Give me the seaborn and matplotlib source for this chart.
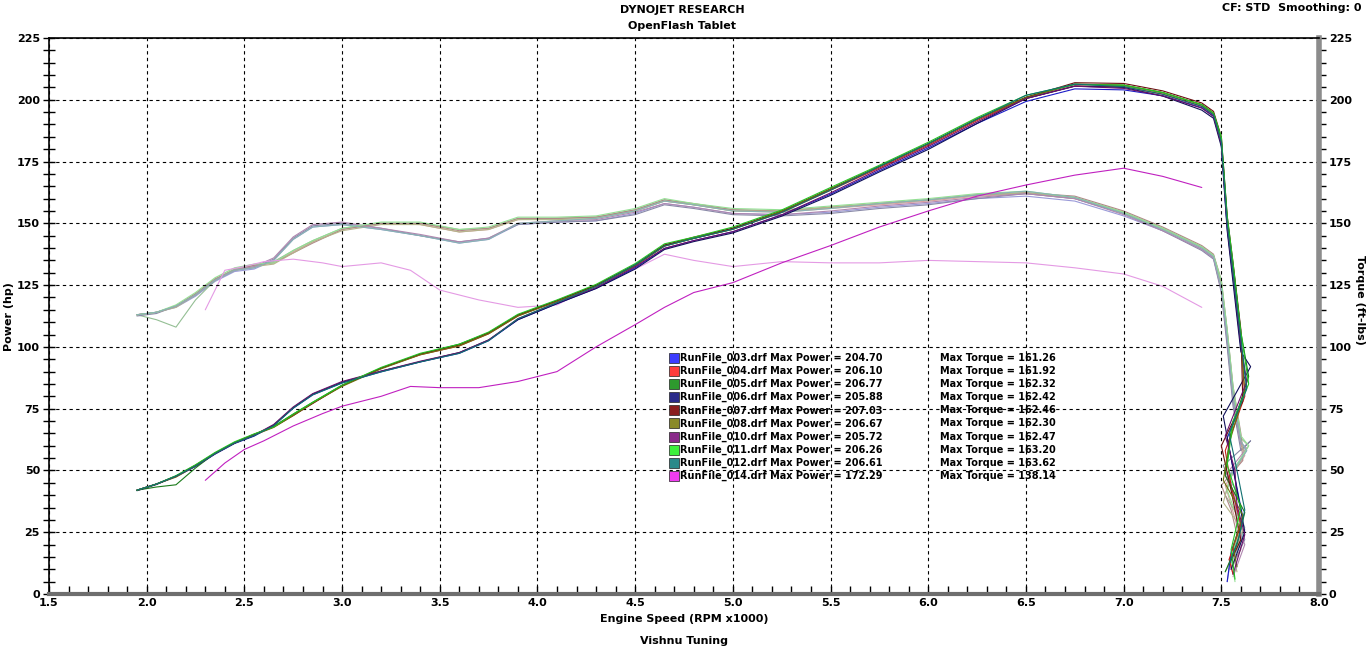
import numpy as np
import matplotlib
matplotlib.use("Agg")
import matplotlib.pyplot as plt
from matplotlib.patches import Rectangle
from matplotlib.ticker import MultipleLocator, FormatStrFormatter
import seaborn as sns

# shared rpm grid (x1000) for the pull of the nine similar runs
rpm_pull = [1.95, 2.05, 2.15, 2.25, 2.35, 2.45, 2.55, 2.65, 2.75, 2.85, 3.0, 3.2, 3.4, 3.6,
            3.75, 3.9, 4.1, 4.3, 4.5, 4.65, 4.8, 5.0, 5.25, 5.5, 5.75, 6.0, 6.25, 6.5, 6.75,
            7.0, 7.2, 7.4, 7.46, 7.5, 7.53, 7.56, 7.6]

hp_003 = [42.0, 44.5, 47.5, 51.6, 56.6, 60.9, 63.9, 68.2, 75.2, 80.6, 85.4, 89.9, 93.9, 97.4, 102.5, 111.0, 117.5, 123.7, 132.0, 139.8, 143.0, 146.6, 153.4, 161.8, 171.3, 180.5, 190.4, 199.3, 204.4, 204.0, 201.6, 196.8, 193.4, 182, 148, 128, 100]
tq_003 = [113, 114, 116, 120.5, 126.5, 130.5, 131.5, 135, 143.5, 148.5, 149.5, 147.5, 145, 142, 143.5, 149.5, 150.5, 151, 154, 158, 156.5, 154, 153.5, 154.5, 156.5, 158, 160, 161, 159, 153, 147, 139.5, 136, 123, 102, 78, 60]
hp_004 = [42.0, 44.5, 47.7, 52.1, 57.0, 61.3, 64.6, 67.6, 72.5, 77.3, 84.3, 91.4, 96.8, 100.4, 105.3, 112.5, 118.7, 124.9, 132.8, 140.8, 143.9, 147.6, 154.4, 163.4, 172.4, 181.6, 191.6, 200.5, 205.6, 205.3, 202.3, 197.4, 194.0, 183, 151, 131, 104]
tq_004 = [113, 114, 116.5, 121.5, 127.5, 131.5, 133, 134, 138.5, 142.5, 147.5, 150, 149.5, 146.5, 147.5, 151.5, 152, 152.5, 155, 159, 157.5, 155, 154.5, 156, 157.5, 159, 161, 162, 160, 154, 147.5, 140, 136.5, 125, 105, 81, 64]
hp_005 = [42.0, 43.3, 44.2, 51.0, 57.0, 61.3, 64.6, 67.9, 72.8, 77.6, 84.5, 91.4, 97.1, 101.1, 105.7, 112.9, 118.7, 124.9, 133.2, 141.2, 143.9, 148.0, 154.9, 163.9, 173.0, 182.2, 192.2, 201.0, 206.3, 205.9, 202.9, 198.0, 194.6, 184, 152, 133, 106]
tq_005 = [113, 111, 108, 119, 127, 131.5, 133, 134.5, 139, 143, 148, 150, 150, 147.5, 148, 152, 152, 152.5, 155.5, 159.5, 157.5, 155.5, 155, 156.5, 158, 159.5, 161.5, 162.3, 160.5, 154.5, 148, 140.5, 137, 126, 106, 83, 63]
hp_006 = [41.8, 44.3, 47.7, 51.8, 56.8, 61.1, 64.1, 68.4, 75.4, 80.9, 85.7, 90.2, 94.0, 97.7, 102.8, 111.0, 117.5, 123.6, 131.5, 139.4, 142.6, 146.1, 152.9, 161.3, 170.8, 179.9, 190.4, 200.5, 205.5, 205.0, 201.5, 195.8, 192.5, 181, 147, 126, 98]
tq_006 = [112.5, 113.5, 116.5, 121, 127, 131, 132, 135.5, 144, 149, 150, 148, 145, 142.5, 144, 149.5, 150.5, 151, 153.5, 157.5, 156, 153.5, 153, 154, 156, 157.5, 160, 162, 160, 154, 147, 139, 135.5, 122, 100, 76, 58]
hp_007 = [42.0, 44.5, 47.7, 52.1, 57.0, 61.1, 64.6, 67.6, 72.2, 77.1, 84.3, 91.4, 97.1, 100.8, 105.7, 112.9, 118.7, 124.9, 133.2, 141.2, 144.4, 148.0, 154.9, 163.9, 173.0, 182.2, 192.2, 201.0, 206.9, 206.6, 203.6, 198.7, 195.3, 185, 153, 134, 107]
tq_007 = [113, 114, 116.5, 121.5, 127.5, 131, 133, 134, 138, 142, 147.5, 150, 150, 147, 148, 152, 152, 152.5, 155.5, 159.5, 158, 155.5, 155, 156.5, 158, 159.5, 161.5, 162.4, 161, 155, 148.5, 141, 137.5, 127, 107, 84, 65]
hp_008 = [42.0, 44.5, 47.3, 51.8, 56.8, 61.1, 64.3, 67.4, 72.2, 77.3, 84.0, 91.1, 96.8, 100.4, 105.3, 112.5, 118.3, 124.5, 132.8, 140.8, 143.9, 147.6, 154.9, 163.9, 173.0, 182.2, 192.2, 200.9, 206.3, 205.9, 202.9, 198.0, 194.6, 184, 151, 131, 104]
tq_008 = [113, 114, 116, 121, 127, 131, 132.5, 133.5, 138, 142.5, 147, 149.5, 149.5, 146.5, 147.5, 151.5, 151.5, 152, 155, 159, 157.5, 155, 155, 156.5, 158, 159.5, 161.5, 162.3, 160.5, 154.5, 148, 140.5, 137, 126, 105, 80, 61]
hp_010 = [42.0, 44.5, 47.7, 51.8, 56.8, 61.1, 64.3, 68.6, 75.7, 81.1, 86.0, 90.2, 94.2, 97.7, 102.8, 111.4, 117.9, 124.0, 132.4, 139.9, 143.0, 146.6, 153.4, 162.3, 171.9, 181.1, 191.0, 200.5, 205.5, 204.6, 201.6, 196.6, 193.2, 182, 149, 129, 101]
tq_010 = [113, 114, 116.5, 121, 127, 131, 132.5, 136, 144.5, 149.5, 150.5, 148, 145.5, 142.5, 144, 150, 151, 151.5, 154.5, 158, 156.5, 154, 153.5, 155, 157, 158.5, 160.5, 162, 160, 153.5, 147, 139.5, 136, 123, 103, 79, 61]
hp_011 = [42.0, 44.5, 47.9, 52.3, 57.3, 61.6, 64.8, 67.6, 72.8, 77.6, 84.5, 91.7, 97.4, 101.1, 106.0, 113.2, 119.0, 125.3, 133.7, 141.7, 144.4, 148.5, 155.4, 164.5, 173.5, 182.8, 192.8, 201.8, 206.2, 205.9, 202.9, 198.0, 194.6, 185, 153, 134, 106]
tq_011 = [113, 114, 117, 122, 128, 132, 133.5, 134, 139, 143, 148, 150.5, 150.5, 147.5, 148.5, 152.5, 152.5, 153, 156, 160, 158, 156, 155.5, 157, 158.5, 160, 162, 163, 160.5, 154.5, 148, 140.5, 137, 127, 107, 84, 64]
hp_012 = [42.0, 44.5, 47.7, 51.8, 56.8, 61.1, 64.1, 68.1, 75.2, 80.6, 85.4, 89.9, 93.9, 97.4, 102.5, 111.4, 117.9, 124.5, 133.2, 140.8, 143.9, 147.6, 154.4, 163.4, 173.0, 182.2, 192.2, 201.8, 206.3, 205.3, 202.2, 197.3, 193.9, 183, 150, 130, 103]
tq_012 = [113, 114, 116.5, 121, 127, 131, 132, 135, 143.5, 148.5, 149.5, 147.5, 145, 142, 143.5, 150, 151, 152, 155, 159, 157.5, 155, 154.5, 156, 158, 159.5, 161.5, 163, 160.5, 154, 147.5, 140, 136.5, 124, 104, 80, 62]

# run-down after the pull (rpm falls back while the drum decelerates)
tail_rpm_003 = [7.63, 7.53, 7.57, 7.61, 7.55, 7.53]
tail_hp_003 = [84, 63, 47, 31, 17, 5]
tail_tq_003 = [58, 47, 38, 25, 15, 5]
tail_rpm_004 = [7.62, 7.52, 7.55, 7.60, 7.54, 7.56]
tail_hp_004 = [80, 58, 44, 28, 14, 8]
tail_tq_004 = [56, 44, 36, 22, 14, 8]
tail_rpm_005 = [7.64, 7.55, 7.52, 7.62, 7.58, 7.52]
tail_hp_005 = [88, 66, 48, 33, 20, 9]
tail_tq_005 = [60, 48, 40, 27, 18, 9]
tail_rpm_006 = [7.65, 7.51, 7.55, 7.59, 7.62, 7.55]
tail_hp_006 = [92, 72, 55, 38, 25, 10]
tail_tq_006 = [62, 52, 44, 30, 22, 10]
tail_rpm_007 = [7.61, 7.50, 7.55, 7.58, 7.60, 7.54]
tail_hp_007 = [78, 60, 42, 30, 22, 12]
tail_tq_007 = [54, 44, 34, 24, 18, 10]
tail_rpm_008 = [7.62, 7.54, 7.51, 7.61, 7.56, 7.58]
tail_hp_008 = [82, 61, 46, 32, 19, 11]
tail_tq_008 = [57, 46, 37, 26, 16, 9]
tail_rpm_010 = [7.63, 7.52, 7.57, 7.58, 7.62, 7.56]
tail_hp_010 = [86, 64, 50, 36, 24, 8]
tail_tq_010 = [59, 48, 40, 28, 20, 7]
tail_rpm_011 = [7.64, 7.56, 7.53, 7.60, 7.55, 7.57]
tail_hp_011 = [85, 70, 52, 35, 18, 6]
tail_tq_011 = [60, 50, 42, 27, 15, 5]
tail_rpm_012 = [7.63, 7.54, 7.58, 7.62, 7.59, 7.54]
tail_hp_012 = [83, 65, 50, 34, 23, 12]
tail_tq_012 = [58, 47, 41, 26, 19, 11]

# run 014 (the weak one) has its own rpm points
rpm_014 = [2.3, 2.4, 2.5, 2.6, 2.75, 2.9, 3.0, 3.2, 3.35, 3.5, 3.7, 3.9, 4.1, 4.3, 4.5, 4.65,
           4.8, 5.0, 5.25, 5.5, 5.75, 6.0, 6.25, 6.5, 6.75, 7.0, 7.2, 7.4]
hp_014 = [46, 53, 58.5, 62, 68, 73, 76, 80, 84, 83.5, 83.5, 86, 90, 100, 109, 116, 122, 126,
          134, 141, 148.5, 155, 161, 165.5, 169.5, 172.3, 169, 164.5]
tq_014 = [115, 131, 132.5, 134.5, 135.5, 134, 132.5, 134, 131, 123, 119, 116, 117, 125, 131.5,
          137.5, 135, 132.5, 134.5, 134, 134, 135, 134.5, 134, 132, 129.5, 124.5, 116]

run_names = ['003', '004', '005', '006', '007', '008', '010', '011', '012', '014']
max_power = [204.70, 206.10, 206.77, 205.88, 207.03, 206.67, 205.72, 206.26, 206.61, 172.29]
max_torque = [161.26, 161.92, 162.32, 162.42, 162.46, 162.30, 162.47, 163.20, 163.62, 138.14]

swatch_colors = ['#3c3cff', '#ff3c3c', '#2e9a2e', '#2a2a8a', '#8a1e1e', '#8a8a28', '#8a2a8a',
                 '#3cf03c', '#2a8a8a', '#f03cf0']
power_colors = ['#1c1cc8', '#c81c1c', '#1a7a1a', '#10105a', '#6a1010', '#6e6e10', '#6a106a',
                '#22c422', '#107070', '#c020c0']
torque_colors = ['#9a9ad8', '#d8a0a0', '#94bf94', '#8a8aa8', '#b08888', '#b4b48a', '#b088b0',
                 '#94e094', '#88b4b4', '#e49ae4']

pulls = [
    (hp_003, tq_003, tail_rpm_003, tail_hp_003, tail_tq_003),
    (hp_004, tq_004, tail_rpm_004, tail_hp_004, tail_tq_004),
    (hp_005, tq_005, tail_rpm_005, tail_hp_005, tail_tq_005),
    (hp_006, tq_006, tail_rpm_006, tail_hp_006, tail_tq_006),
    (hp_007, tq_007, tail_rpm_007, tail_hp_007, tail_tq_007),
    (hp_008, tq_008, tail_rpm_008, tail_hp_008, tail_tq_008),
    (hp_010, tq_010, tail_rpm_010, tail_hp_010, tail_tq_010),
    (hp_011, tq_011, tail_rpm_011, tail_hp_011, tail_tq_011),
    (hp_012, tq_012, tail_rpm_012, tail_hp_012, tail_tq_012),
]

sns.set_style('white')
plt.rcParams['font.family'] = ['DejaVu Sans']
plt.rcParams['font.weight'] = 'bold'
plt.rcParams['text.color'] = 'black'
plt.rcParams['xtick.color'] = 'black'
plt.rcParams['ytick.color'] = 'black'
plt.rcParams['axes.labelcolor'] = 'black'

fig = plt.figure(figsize=(13.68, 6.47), dpi=100)
ax = fig.add_axes([0.0358, 0.0819, 0.9284, 0.8594])
ax2 = ax.twinx()

lw = 0.8
for i, (hp, tq, t_rpm, t_hp, t_tq) in enumerate(pulls):
    sns.lineplot(x=rpm_pull + t_rpm, y=tq + t_tq, ax=ax2, color=torque_colors[i], lw=lw,
                 sort=False, estimator=None)
sns.lineplot(x=rpm_014, y=tq_014, ax=ax2, color=torque_colors[9], lw=lw, sort=False, estimator=None)

sns.lineplot(x=rpm_014, y=hp_014, ax=ax, color=power_colors[9], lw=lw, sort=False, estimator=None)
for i, (hp, tq, t_rpm, t_hp, t_tq) in enumerate(pulls):
    sns.lineplot(x=rpm_pull + t_rpm, y=hp + t_hp, ax=ax, color=power_colors[i], lw=lw,
                 sort=False, estimator=None)

ax.set_zorder(ax2.get_zorder() + 1)
ax.patch.set_visible(False)

for a in (ax, ax2):
    a.set_xlim(1.5, 8.0)
    a.set_ylim(0, 225)
    a.yaxis.set_major_locator(MultipleLocator(25))
    a.yaxis.set_minor_locator(MultipleLocator(5))
    a.set_xlabel('')
    a.set_ylabel('')
ax.xaxis.set_major_locator(MultipleLocator(0.5))
ax.xaxis.set_minor_locator(MultipleLocator(0.1))
ax.xaxis.set_major_formatter(FormatStrFormatter('%.1f'))

ax.grid(True, which='major', color='black', ls=(0, (3, 3)), lw=0.8)
ax2.grid(False)

ax.tick_params(axis='y', which='both', direction='inout', length=9, width=1, left=True,
               labelsize=8, pad=2, colors='black')
ax.tick_params(axis='x', which='both', direction='in', length=6, width=1, bottom=True,
               labelsize=8, pad=3, colors='black')
ax2.tick_params(axis='y', which='both', direction='out', length=5, width=1, right=True,
                labelsize=8, pad=2, colors='black')
for lab in ax.get_xticklabels() + ax.get_yticklabels() + ax2.get_yticklabels():
    lab.set_fontweight('bold')

for s in ax2.spines.values():
    s.set_visible(False)
ax.spines['top'].set_color('black')
ax.spines['top'].set_linewidth(1.2)
ax.spines['left'].set_color('black')
ax.spines['left'].set_linewidth(1.2)
ax.spines['right'].set_color('#8c8c8c')
ax.spines['right'].set_linewidth(4)
ax.spines['bottom'].set_color('#6e6e6e')
ax.spines['bottom'].set_linewidth(3)

# legend block
row_h = 0.02356
y0 = 0.4245
for i, name in enumerate(run_names):
    y = y0 - i * row_h
    ax.add_patch(Rectangle((0.4882, y - 0.009), 0.0079, 0.018, transform=ax.transAxes,
                           facecolor=swatch_colors[i], edgecolor='#202020', lw=0.5, zorder=5))
    ax.text(0.4972, y, f'RunFile_{name}.drf Max Power = {max_power[i]:.2f}', transform=ax.transAxes,
            ha='left', va='center', fontsize=7, fontweight='bold', zorder=5)
    ax.text(0.7016, y, f'Max Torque = {max_torque[i]:.2f}', transform=ax.transAxes,
            ha='left', va='center', fontsize=7, fontweight='bold', zorder=5)

fig.text(0.4985, 0.9845, 'DYNOJET RESEARCH', ha='center', va='center', fontsize=8, fontweight='bold')
fig.text(0.4985, 0.960, 'OpenFlash Tablet', ha='center', va='center', fontsize=8, fontweight='bold')
fig.text(0.9956, 0.9876, 'CF: STD  Smoothing: 0', ha='right', va='center', fontsize=8, fontweight='bold')
fig.text(0.5, 0.0433, 'Engine Speed (RPM x1000)', ha='center', va='center', fontsize=8, fontweight='bold')
fig.text(0.5, 0.0093, 'Vishnu Tuning', ha='center', va='center', fontsize=8, fontweight='bold')
fig.text(0.0066, 0.51, 'Power (hp)', ha='center', va='center', rotation=90, fontsize=8, fontweight='bold')
fig.text(0.9942, 0.536, 'Torque (ft-lbs)', ha='center', va='center', rotation=-90, fontsize=8, fontweight='bold')

fig.savefig('out.png', dpi=100)
